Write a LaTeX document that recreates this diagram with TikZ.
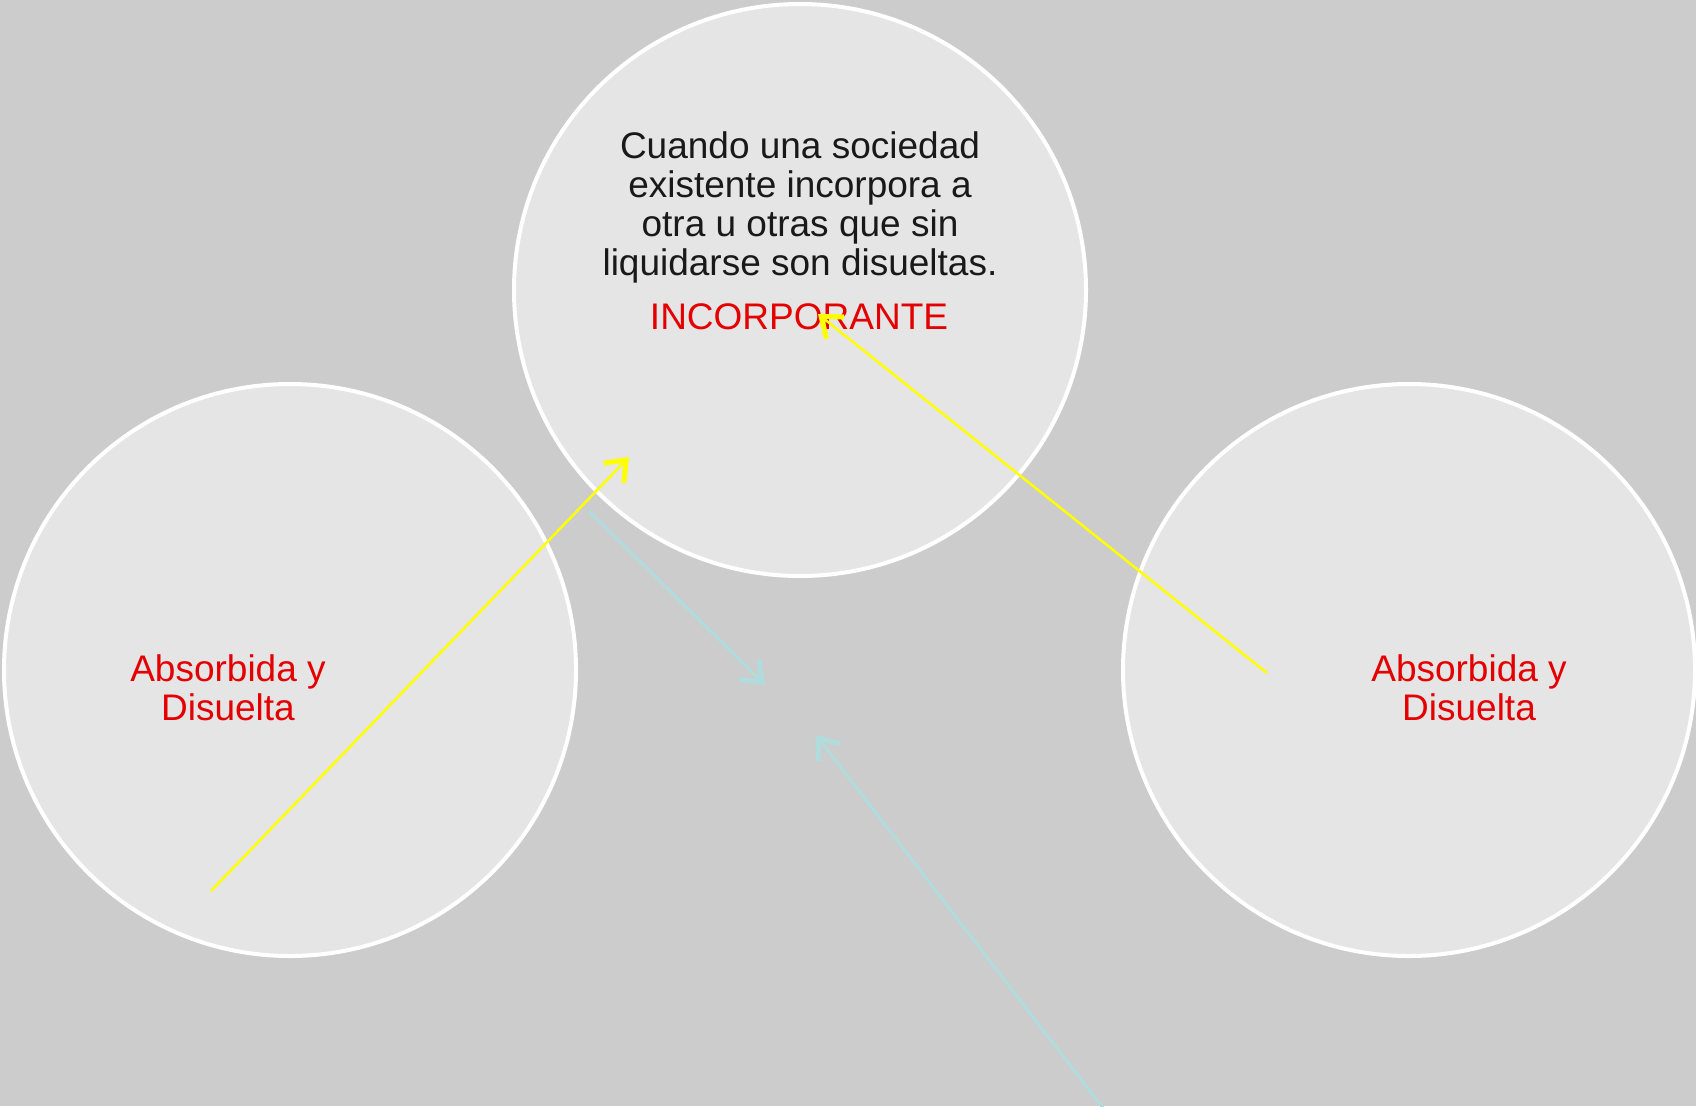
\documentclass[tikz,border=0pt]{standalone}
\usepackage{fontspec}
\setmainfont{Liberation Sans}
\usetikzlibrary{arrows.meta}
\definecolor{bgc}{HTML}{CCCCCC}
\definecolor{circfill}{HTML}{E5E5E5}
\definecolor{redtxt}{RGB}{228,0,0}
\definecolor{cyanline}{RGB}{176,220,222}
\definecolor{yel}{RGB}{255,255,0}
\tikzset{
  bubble/.style={circle, draw=white, line width=4pt, fill=circfill, minimum size=572pt, inner sep=0pt},
  bodytxt/.style={font=\fontsize{37}{39}\selectfont, text=black!90, align=center, inner sep=0pt},
  redlbl/.style={font=\fontsize{37}{39}\selectfont, text=redtxt, align=center, inner sep=0pt},
  yarrow/.style={draw=yel, line width=2.5pt, -{Straight Barb[length=18pt,width=28pt,line width=5pt]}},
  carrow/.style={draw=cyanline, line width=3pt, -{Straight Barb[length=18pt,width=28pt,line width=5pt]}}
}
\begin{document}
\begin{tikzpicture}[x=1pt,y=-1pt]
\fill[bgc] (0,0) rectangle (1696,1106);
\useasboundingbox (0,0) rectangle (1696,1106);
\node[bubble] (top) at (800,290) {};
\node[bubble] (left) at (290,670) {};
\node[bubble] (right) at (1409,670) {};
\node[bodytxt, anchor=base] (t1) at (800,158) {Cuando una sociedad};
\node[bodytxt, anchor=base] (t2) at (800,197) {existente incorpora a};
\node[bodytxt, anchor=base] (t3) at (800,236) {otra u otras que sin};
\node[bodytxt, anchor=base] (t4) at (800,275) {liquidarse son disueltas.};
\node[redlbl, anchor=base] (inc) at (799,329) {INCORPORANTE};
\node[redlbl] (labl) at (228,688) {Absorbida y\\Disuelta};
\node[redlbl] (labr) at (1469,688) {Absorbida y\\Disuelta};
\coordinate (ya1) at (211,891);
\coordinate (yb1) at (629,457);
\coordinate (ya2) at (1267,673);
\coordinate (yb2) at (818,314);
\coordinate (ca1) at (589,511);
\coordinate (cb1) at (765,685);
\coordinate (ca2) at (1103,1108);
\coordinate (cb2) at (816,735);
\draw[carrow] (ca1) -- (cb1);
\draw[carrow] (ca2) -- (cb2);
\draw[yarrow] (ya1) -- (yb1);
\draw[yarrow] (ya2) -- (yb2);
\end{tikzpicture}
\end{document}
